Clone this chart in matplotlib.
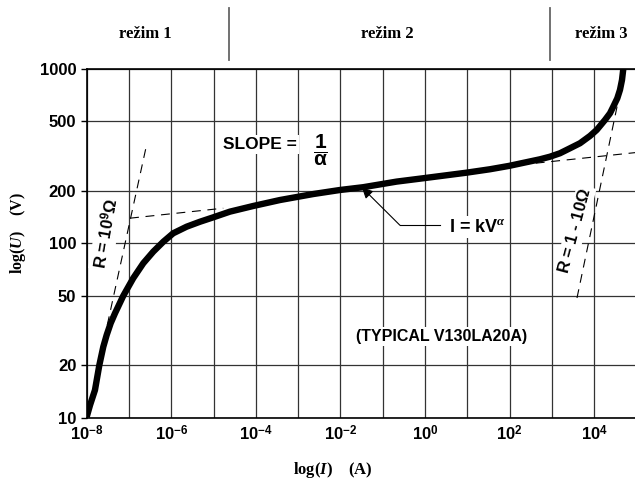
import numpy as np
import matplotlib
matplotlib.use('Agg')
import matplotlib.pyplot as plt
import matplotlib.transforms as mtransforms
from matplotlib.ticker import FixedLocator, NullFormatter, NullLocator

plt.rcParams['font.family'] = ['Liberation Sans', 'DejaVu Sans']
plt.rcParams['font.weight'] = 'bold'
plt.rcParams['mathtext.fontset'] = 'custom'
plt.rcParams['mathtext.rm'] = 'Liberation Sans:bold'
plt.rcParams['mathtext.bf'] = 'Liberation Sans:bold'
plt.rcParams['mathtext.it'] = 'Liberation Serif:italic:bold'

# V-I characteristic of the varistor
current = [1.0e-8, 1.20e-8, 1.57e-8, 1.99e-8, 2.47e-8, 2.97e-8, 3.69e-8, 4.67e-8,
           7.33e-8, 1.26e-7, 2.18e-7, 3.75e-7, 6.47e-7, 1.11e-6, 2.31e-6,
           4.77e-6, 9.84e-6, 2.44e-5, 8.69e-5, 3.72e-4, 2.28e-3, 9.73e-3,
           3.46e-2, 0.213, 0.877, 9.27, 34.2, 96.0, 520.0, 897.0, 1545.0,
           2665.0, 4590.0, 7910.0, 1.14e4, 1.79e4, 2.35e4, 2.81e4, 3.50e4,
           4.05e4, 4.52e4, 4.85e4]
voltage = [10.1, 11.8, 14.4, 20.0, 25.5, 29.8, 34.8, 39.7,
           50.0, 63.1, 76.9, 89.6, 102.1, 114.2, 124.6,
           133.0, 141.0, 152.0, 163.8, 177.2, 191.8, 202.3,
           209.9, 226.0, 236.0, 254.0, 266.0, 278.0, 303.4, 314.0, 328.6,
           351.0, 375.0, 413.0, 447.0, 510.0, 557.0, 608.0, 679.0,
           759.0, 865.0, 1000.0]

# dashed asymptotes
r_low_i = [2.56e-8, 2.67e-7]       # R = 10^9 ohm
r_low_v = [27.8, 377.0]
slope_left_i = [1.06e-7, 1.69e-5]  # slope 1/alpha, left part
slope_left_v = [139.4, 159.0]
slope_right_i = [178.0, 1.0e5]     # slope 1/alpha, right part
slope_right_v = [282.0, 332.0]
r_high_i = [3900.0, 3.64e4]        # R = 1 - 10 ohm
r_high_v = [48.6, 647.0]

# leader of the I = kV^alpha label
leader_i = [2.24, 0.254, 0.0322]
leader_v = [127.0, 127.0, 209.0]

# regimes
regime_edges = [2.3e-5, 9.0e2]
regime_names = ['režim 1', 'režim 2', 'režim 3']
regime_centers = [2.5e-7, 0.13, 1.5e4]

x_exps = [-8, -6, -4, -2, 0, 2, 4]
y_ticks = [10, 20, 50, 100, 200, 500, 1000]

fig = plt.figure(figsize=(6.35, 4.8), dpi=100)
ax = fig.add_axes([0.1365, 0.1298, 0.866, 0.7265])
ax.set_xscale('log')
ax.set_yscale('log')
ax.set_xlim(1e-8, 1e5)
ax.set_ylim(10, 1000)

ax.xaxis.set_major_locator(FixedLocator([10.0 ** e for e in x_exps]))
ax.set_xticklabels([f'$10^{{{e}}}$' for e in x_exps])
ax.xaxis.set_minor_locator(FixedLocator([10.0 ** k for k in range(-8, 6)]))
ax.xaxis.set_minor_formatter(NullFormatter())
ax.set_yticks(y_ticks)
ax.set_yticklabels([str(v) for v in y_ticks])
ax.yaxis.set_minor_locator(NullLocator())

ax.grid(True, which='both', axis='x', color='#333333', lw=0.9)
ax.grid(True, which='major', axis='y', color='#333333', lw=0.9)
ax.tick_params(axis='x', which='both', length=0, pad=5, labelsize=12)
ax.tick_params(axis='y', length=4, width=1, pad=3.5, labelsize=12)
ax.spines['right'].set_visible(False)
for s in ['left', 'bottom', 'top']:
    ax.spines[s].set_linewidth(1.2)

# curve and asymptotes
ax.plot(current, voltage, color='black', lw=4.6, solid_joinstyle='round',
        solid_capstyle='butt', zorder=5)
for xs, ys in [(r_low_i, r_low_v), (slope_left_i, slope_left_v),
               (slope_right_i, slope_right_v), (r_high_i, r_high_v)]:
    ax.plot(xs, ys, color='black', lw=0.8, dashes=(8, 6), zorder=3)

ax.plot(leader_i[:2], leader_v[:2], color='black', lw=0.8, zorder=4)
ax.annotate('', xy=(leader_i[2], leader_v[2]), xytext=(leader_i[1], leader_v[1]),
            arrowprops=dict(arrowstyle='-|>', color='black', lw=0.8,
                            mutation_scale=16, shrinkA=0, shrinkB=0), zorder=4)

box = dict(fc='white', ec='none', pad=1.5)
ax.text(3.6, 124, r'I = kV$^{\alpha}$', fontsize=13, ha='left', va='center',
        bbox=box, zorder=4)
ax.text(1.67e-5, 367, 'SLOPE =', fontsize=12.5, ha='left', va='center',
        bbox=box, zorder=4)
ax.text(3.28e-3, 343, r'$\dfrac{1}{\mathrm{\alpha}}$', fontsize=15, ha='center',
        va='center', bbox=box, zorder=4)
ax.text(2.51, 29.1, '(TYPICAL V130LA20A)', fontsize=11.5, ha='center', va='center',
        bbox=box, zorder=4)
ax.text(2.86e-8, 114.6, r'R = 10$^9\Omega$', fontsize=12, rotation=80,
        ha='center', va='center', bbox=box, zorder=4)
ax.text(3500, 117.8, r'R = 1 - 10$\Omega$', fontsize=12, rotation=75,
        ha='center', va='center', bbox=box, zorder=4)

# regime header
trans = mtransforms.blended_transform_factory(ax.transData, ax.transAxes)
for e in regime_edges:
    ax.plot([e, e], [1.026, 1.175], transform=trans, clip_on=False,
            color='#666666', lw=1.3)
for name, c in zip(regime_names, regime_centers):
    ax.text(c, 1.1, name, transform=trans, ha='center', va='center',
            fontfamily='Liberation Serif', fontweight='bold', fontsize=12)

ax.set_xlabel(r'log($\mathit{I}$)    (A)', fontfamily='Liberation Serif',
              fontweight='bold', fontsize=12)
ax.xaxis.set_label_coords(0.447, -0.121)
ax.set_ylabel(r'log($\mathit{U}$)    (V)', fontfamily='Liberation Serif',
              fontweight='bold', fontsize=11.5)
ax.yaxis.set_label_coords(-0.106, 0.53)

fig.savefig('out.png', dpi=100)
